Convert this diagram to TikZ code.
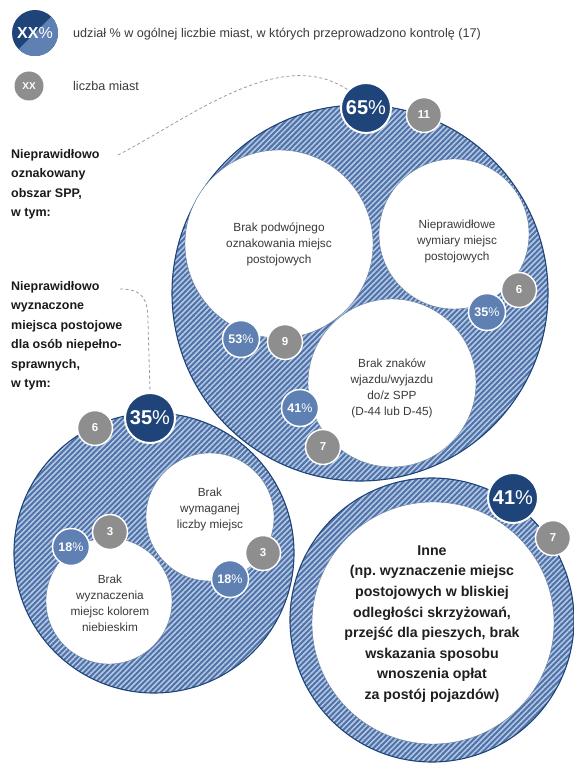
\documentclass[tikz,border=0pt]{standalone}
\usepackage{fontspec}
\setmainfont{Liberation Sans}
\usetikzlibrary{patterns.meta}
\definecolor{dkblue}{HTML}{1E4479}
\definecolor{mdblue}{HTML}{5F80B2}
\definecolor{hatchbg}{HTML}{4F73AA}
\definecolor{hatchfg}{HTML}{B8CAE3}
\definecolor{bgray}{HTML}{8E8E8E}
\definecolor{txtgray}{HTML}{3A3A3A}
\definecolor{dashgray}{HTML}{9A9A9A}
\begin{document}
\frenchspacing
\begin{tikzpicture}[x=1pt,y=-1pt,
  ring/.style={circle, inner sep=0pt, draw=dkblue, line width=1.1pt,
    preaction={fill=hatchbg},
    pattern={Lines[angle=45,distance=3.8pt,line width=1.5pt]}, pattern color=hatchfg},
  hole/.style={circle, inner sep=0pt, fill=white, draw=dkblue!70, line width=0.4pt},
  holetext/.style={align=center, text=txtgray, font=\fontsize{11.8}{16}\selectfont},
  bigpct/.style={circle, inner sep=0pt, fill=dkblue, draw=white, line width=2pt,
    minimum size=50pt, text=white, font=\fontsize{20}{20}\selectfont},
  pct/.style={circle, inner sep=0pt, fill=mdblue, draw=white, line width=1.5pt,
    minimum size=37pt, text=white, font=\bfseries\fontsize{12.5}{12.5}\selectfont},
  cnt/.style={circle, inner sep=0pt, fill=bgray, draw=white, line width=1.5pt,
    minimum size=35pt, text=white, font=\bfseries\fontsize{11.5}{11.5}\selectfont},
  sidelbl/.style={anchor=north west, inner sep=0pt, align=left, text=black!90,
    font=\bfseries\fontsize{12.5}{19.5}\selectfont},
  legtext/.style={anchor=west, inner sep=0pt, text=txtgray, font=\fontsize{12.6}{15}\selectfont},
  conn/.style={dashgray, line width=0.8pt, dash pattern=on 3pt off 2.5pt}
]
\useasboundingbox (0,0) rectangle (573,775);

% legend
\node[bigpct, minimum size=46pt, draw=none, font=\fontsize{16}{16}\selectfont,
  path picture={\fill[mdblue] (path picture bounding box.north east) -- (path picture bounding box.south west) -- (path picture bounding box.south east) -- cycle;}]
  (legP) at (35,33) {\bfseries XX\mdseries\%};
\node[legtext] (legT1) at (73,34) {udział \% w ogólnej liczbie miast, w których przeprowadzono kontrolę (17)};
\node[cnt, minimum size=29pt, draw=none, font=\bfseries\fontsize{10}{10}\selectfont] (legC) at (29,86) {XX};
\node[legtext] (legT2) at (73,86) {liczba miast};

% big rings
\node[ring, minimum size=376pt] (ringA) at (360,293) {};
\node[ring, minimum size=280pt] (ringB) at (154,553) {};
\node[ring, minimum size=284pt] (ringC) at (432,620) {};

% holes
\node[hole, minimum size=188pt] (holeA1) at (279,244) {};
\node[hole, minimum size=150pt] (holeA2) at (454,234) {};
\node[hole, minimum size=168pt] (holeA3) at (392,383) {};
\node[hole, minimum size=128pt] (holeB1) at (210,517) {};
\node[hole, minimum size=126pt] (holeB2) at (109,601) {};
\node[hole, minimum size=242pt] (holeC1) at (433,623) {};

% hole texts
\node[holetext] (tA1) at (279,244) {Brak podwójnego\\oznakowania miejsc\\postojowych};
\node[holetext] (tA2) at (457,241) {Nieprawidłowe\\wymiary miejsc\\postojowych};
\node[holetext] (tA3) at (392,388) {Brak znaków\\wjazdu/wyjazdu\\do/z SPP\\(D-44 lub D-45)};
\node[holetext] (tB1) at (210,509) {Brak\\wymaganej\\liczby miejsc};
\node[holetext] (tB2) at (110,603) {Brak\\wyznaczenia\\miejsc kolorem\\niebieskim};
\node[align=center, text=black!88, font=\bfseries\fontsize{14.2}{20.6}\selectfont] (tC1) at (432,624)
  {Inne\\(np. wyznaczenie miejsc\\postojowych w bliskiej\\odległości skrzyżowań,\\przejść dla pieszych, brak\\wskazania sposobu\\wnoszenia opłat\\za postój pojazdów)};

% bubbles
\node[bigpct] (pA) at (366,108) {\bfseries 65\mdseries\%};
\node[cnt] (cA) at (424,115) {11};
\node[pct] (p1) at (241,339) {53\mdseries\%};
\node[cnt] (c1) at (285,342) {9};
\node[pct] (p2) at (487,312) {35\mdseries\%};
\node[cnt] (c2) at (519,290) {6};
\node[pct] (p3) at (300,408) {41\mdseries\%};
\node[cnt] (c3) at (323,447) {7};

\node[bigpct] (pB) at (150,418) {\bfseries 35\mdseries\%};
\node[cnt] (cB) at (95,428) {6};
\node[pct] (p4) at (230,579) {18\mdseries\%};
\node[cnt] (c4) at (263,553) {3};
\node[pct] (p5) at (71,547) {18\mdseries\%};
\node[cnt] (c5) at (110,532) {3};

\node[bigpct] (pC) at (513,498) {\bfseries 41\mdseries\%};
\node[cnt] (cC) at (553,538) {7};

% side labels
\node[sidelbl] (L1) at (11,149) {Nieprawidłowo\\oznakowany\\obszar SPP,\\w tym:};
\node[sidelbl] (L2) at (11,281) {Nieprawidłowo\\wyznaczone\\miejsca postojowe\\dla osób niepełno-\\sprawnych,\\w tym:};

% connectors
\coordinate (d1s) at (118,155);
\coordinate (d2s) at (120,289);
\draw[conn] (d1s) .. controls (190,118) and (280,45) .. (pA.135);
\draw[conn] (d2s) .. controls (142,289) and (148,298) .. (148,322) -- (pB.north);
\end{tikzpicture}
\end{document}
